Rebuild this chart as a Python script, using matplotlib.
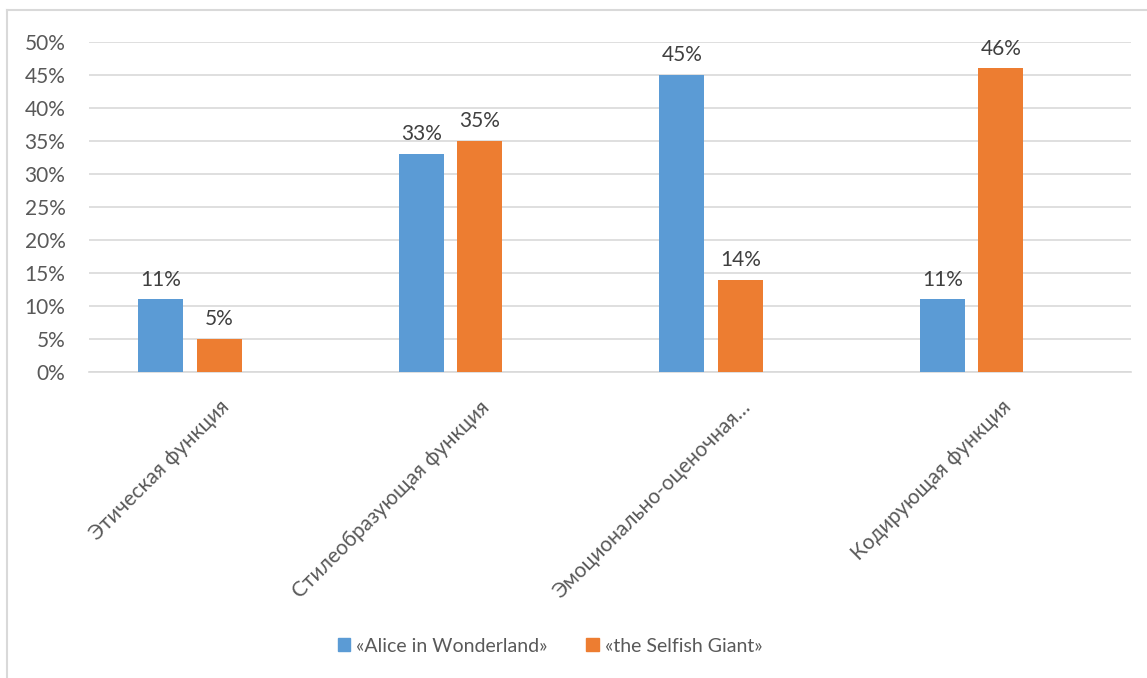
import matplotlib
matplotlib.use('Agg')
import matplotlib.pyplot as plt
from matplotlib.lines import Line2D
from matplotlib.patches import Patch
import numpy as np

plt.rcParams['font.family'] = ['Lato', 'DejaVu Sans']

categories = ['Этическая функция', 'Стилеобразующая функция',
              'Эмоционально-оценочная…', 'Кодирующая функция']
series_names = ['«Alice in Wonderland»', '«the Selfish Giant»']
alice = [11, 33, 45, 11]
giant = [5, 35, 14, 46]
y_ticks = [0, 5, 10, 15, 20, 25, 30, 35, 40, 45, 50]

BLUE = '#5B9BD5'
ORANGE = '#ED7D31'
GRID = '#D9D9D9'
FS = 15

W, H = 1147, 678
fig = plt.figure(figsize=(W / 100, H / 100), dpi=100)
fig.patch.set_facecolor('white')

# plot area in pixels: x 89..1131, y 42..372
ax = fig.add_axes([89 / W, 1 - 372 / H, (1131 - 89) / W, (372 - 42) / H])

x = np.arange(len(categories))
bar_w = 0.173
step = 0.224
bars_a = ax.bar(x - step, alice, width=bar_w, color=BLUE, zorder=3)
bars_g = ax.bar(x, giant, width=bar_w, color=ORANGE, zorder=3)

for bars, vals in ((bars_a, alice), (bars_g, giant)):
    for b, v in zip(bars, vals):
        ax.annotate(f'{v}%', (b.get_x() + b.get_width() / 2, v),
                    xytext=(0, 7), textcoords='offset points',
                    ha='center', va='bottom', fontsize=FS, color='#404040')

ax.set_xlim(-0.5, 3.5)
ax.set_ylim(0, 50)
ax.set_yticks(y_ticks)
ax.set_yticklabels([f'{t}%' for t in y_ticks], fontsize=FS, color='#595959')
ax.yaxis.grid(True, color=GRID, linewidth=1.2, zorder=0)
ax.tick_params(axis='y', length=0, pad=17)
ax.tick_params(axis='x', length=0, pad=18)
ax.set_xticks(x)
ax.set_xticklabels(categories, rotation=45, ha='right', va='top',
                   rotation_mode='anchor', fontsize=FS, color='#595959')
for s in ('top', 'right', 'left'):
    ax.spines[s].set_visible(False)
ax.spines['bottom'].set_color(GRID)
ax.spines['bottom'].set_linewidth(1.2)

handles = [Patch(color=BLUE), Patch(color=ORANGE)]
fig.legend(handles, series_names, loc='center', bbox_to_anchor=(550 / W, 1 - 646 / H),
           ncol=2, frameon=False, fontsize=14, labelcolor='#595959',
           handlelength=0.65, handleheight=0.65, handletextpad=0.3, columnspacing=2.0)

# chart frame edges
fig.add_artist(Line2D([7 / W, 7 / W], [0, 1 - 10 / H], color=GRID, linewidth=1.5))
fig.add_artist(Line2D([7 / W, 1], [1 - 10 / H, 1 - 10 / H], color=GRID, linewidth=1.5))

plt.savefig('out.png', dpi=100, facecolor='white')
plt.close()
